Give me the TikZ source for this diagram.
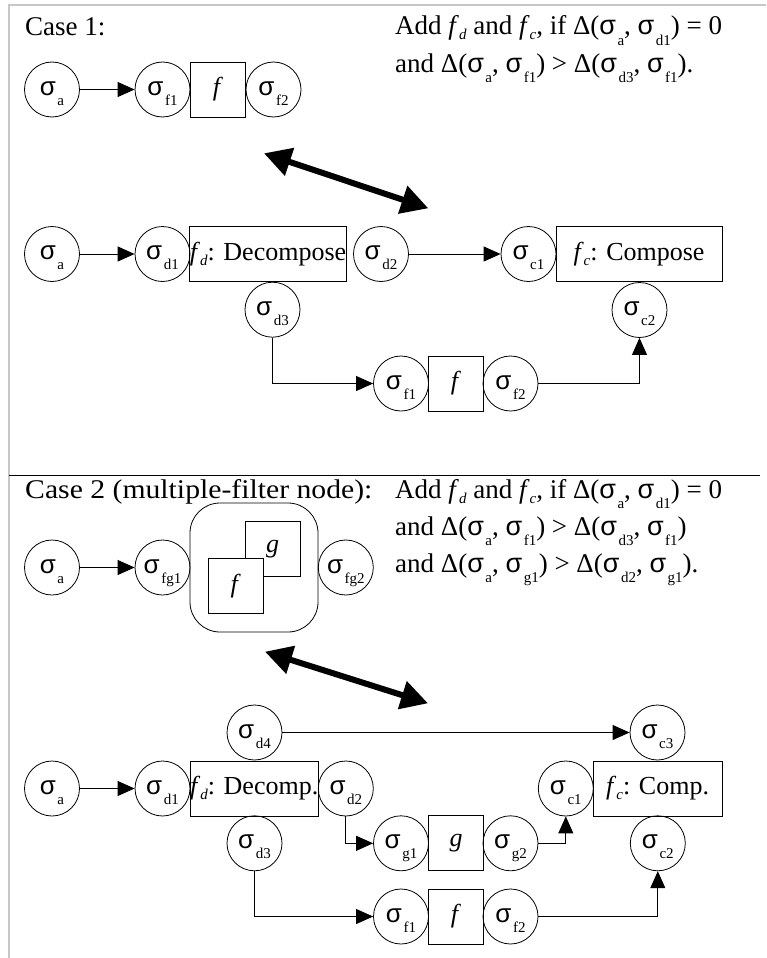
\documentclass[tikz,border=0pt]{standalone}
\usepackage{fontspec}
\setmainfont{Liberation Serif}
\newfontfamily\sigfont{Liberation Sans}
\usetikzlibrary{arrows.meta}

% sigma with a lowered index, and a lowered italic index
\newcommand\sg[1]{{\sigfont σ}\kern1.5pt\raisebox{-10pt}{\fontsize{15pt}{15pt}\selectfont #1}}
\newcommand\isub[1]{\raisebox{-5pt}{\fontsize{15pt}{15pt}\selectfont\itshape #1}}

\begin{document}
\begin{tikzpicture}[x=1pt,y=-1pt,
  every node/.style={font=\fontsize{26pt}{31pt}\selectfont},
  st/.style={draw, circle, line width=0.8pt, minimum size=55pt, inner sep=0pt,
             text height=11pt, text depth=0pt},
  flt/.style={draw, rectangle, line width=0.8pt, minimum width=55pt,
              minimum height=55pt, inner sep=0pt},
  conn/.style={-{Triangle[length=17pt,width=15pt]}, line width=0.9pt},
  swap/.style={{Triangle[length=27pt,width=28pt]}-{Triangle[length=27pt,width=28pt]},
               line width=6pt},
  lbl/.style={anchor=base west, inner sep=0pt, font=\fontsize{27pt}{32pt}\selectfont}
]
\useasboundingbox (0,0) rectangle (766,958);

% page frame and separator
\draw[black!22, line width=1.2pt] (9,958) -- (9,5) -- (766,5);
\draw[line width=0.9pt] (9,475) -- (760,475);

% ---------------- Case 1 ----------------
\node[lbl] (t1) at (25,36) {Case 1:};
\node[lbl] (r1a) at (395,35) {Add \textit{f}\isub{d} and \textit{f}\isub{c}, if Δ(\sg{a}, \sg{d1}) = 0};
\node[lbl] (r1b) at (395,72) {and Δ(\sg{a}, \sg{f1}) > Δ(\sg{d3}, \sg{f1}).};

\node[st] (A1) at (52,89.5) {\sg{a}};
\node[st] (F1a) at (162.5,89.5) {\sg{f1}};
\node[flt] (Fa) at (218,89.5) {\textit{f}};
\node[st] (F2a) at (273.5,89.5) {\sg{f2}};
\draw[conn] (A1) -- (F1a);

\coordinate (s1a) at (264,153.3);
\coordinate (s1b) at (428.3,208.3);
\draw[swap] (s1a) -- (s1b);

\node[st] (A2) at (52,254) {\sg{a}};
\node[st] (D1) at (162.5,254) {\sg{d1}};
\node[flt, minimum width=156pt] (Dec) at (268,254) {\textit{f}\isub{d}: Decompose};
\node[st] (D2) at (381,254) {\sg{d2}};
\node[st] (C1) at (528.5,254) {\sg{c1}};
\node[flt, minimum width=166pt] (Com) at (639,254) {\textit{f}\isub{c}: Compose};
\node[st] (D3) at (272.5,309.7) {\sg{d3}};
\node[st] (C2) at (639.5,310) {\sg{c2}};
\node[st] (F1b) at (401,383.5) {\sg{f1}};
\node[flt] (Fb) at (456,383.5) {\textit{f}};
\node[st] (F2b) at (510.5,383.5) {\sg{f2}};
\draw[conn] (A2) -- (D1);
\draw[conn] (D2) -- (C1);
\draw[conn] (D3.south) |- (F1b.west);
\draw[conn] (F2b.east) -| (C2.south);

% ---------------- Case 2 ----------------
\node[lbl] (t2) at (25,498) {\scalebox{1.1}[1]{Case 2 (multiple-filter node):}};
\node[lbl] (r2a) at (395,498) {Add \textit{f}\isub{d} and \textit{f}\isub{c}, if Δ(\sg{a}, \sg{d1}) = 0};
\node[lbl] (r2b) at (395,535) {and Δ(\sg{a}, \sg{f1}) > Δ(\sg{d3}, \sg{f1})};
\node[lbl] (r2c) at (395,572) {and Δ(\sg{a}, \sg{g1}) > Δ(\sg{d2}, \sg{g1}).};

\node[st] (A3) at (52,567.5) {\sg{a}};
\node[st] (FG1) at (162.5,567.5) {\sg{fg1}};
\node[draw, line width=0.8pt, rounded corners=30pt, minimum width=128pt,
      minimum height=129pt] (M) at (254,567.5) {};
\node[flt] (Gm) at (272.5,549) {\textit{g}};
\node[flt, fill=white] (Fm) at (235.8,585.8) {\textit{f}};
\node[st] (FG2) at (345.8,567.5) {\sg{fg2}};
\draw[conn] (A3) -- (FG1);

\coordinate (s2a) at (265,651.7);
\coordinate (s2b) at (428,703.3);
\draw[swap] (s2a) -- (s2b);

\node[st] (D4) at (254.5,732.5) {\sg{d4}};
\node[st] (A4) at (52,788.5) {\sg{a}};
\node[st] (D1b) at (162.5,788.5) {\sg{d1}};
\node[flt, minimum width=128pt] (Dec2) at (254.2,788.5) {\textit{f}\isub{d}: Decomp.};
\node[st] (D2b) at (345.8,788.5) {\sg{d2}};
\node[st] (D3b) at (254.5,843.3) {\sg{d3}};
\node[st] (G1) at (401,843.3) {\sg{g1}};
\node[flt] (Gb) at (456,843.3) {\textit{g}};
\node[st] (G2) at (510.5,843.3) {\sg{g2}};
\node[st] (C1b) at (565.8,788.5) {\sg{c1}};
\node[flt, minimum width=129pt] (Com2) at (657.6,788.5) {\textit{f}\isub{c}: Comp.};
\node[st] (C3) at (657.5,732.5) {\sg{c3}};
\node[st] (C2b) at (657.8,843.3) {\sg{c2}};
\node[st] (F1c) at (401,916.5) {\sg{f1}};
\node[flt] (Fc) at (456,916.5) {\textit{f}};
\node[st] (F2c) at (510.5,916.5) {\sg{f2}};

\draw[conn] (A4) -- (D1b);
\draw[conn] (D4) -- (C3);
\draw[conn] (D2b.south) |- (G1.west);
\draw[conn] (D3b.south) |- (F1c.west);
\draw[conn] (G2.east) -| (C1b.south);
\draw[conn] (F2c.east) -| (C2b.south);
\end{tikzpicture}
\end{document}
